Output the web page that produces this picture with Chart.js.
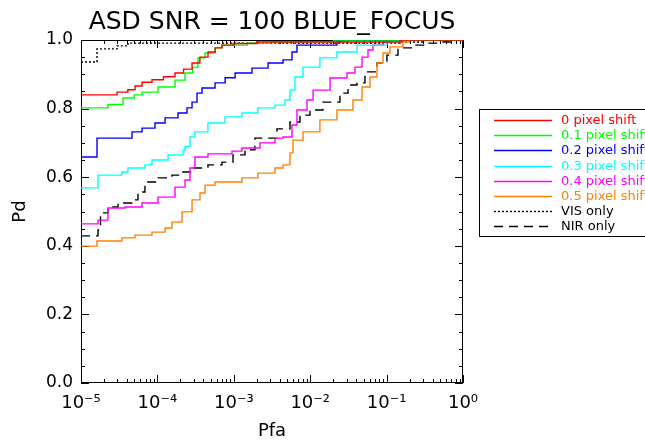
<!DOCTYPE html>
<html>
<head>
<meta charset="utf-8">
<script src="https://cdn.jsdelivr.net/npm/chart.js@4"></script>
<style>
  body { margin: 0; background: #fff; }
  canvas { display: block; }
</style>
</head>
<body>
<canvas id="rocChart" width="645" height="443"></canvas>
<script>
// labels, in legend order
var seriesLabels = ["0 pixel shift", "0.1 pixel shift", "0.2 pixel shift", "0.3 pixel shift",
  "0.4 pixel shift", "0.5 pixel shift", "VIS only", "NIR only"];

// ROC curves (Pfa, Pd)
var shift0Pfa = [1e-5, 2.96e-5, 4.1e-5, 5.1e-5, 6.3e-5, 8.5e-5, 1.2e-4, 1.7e-4, 2.2e-4, 2.84e-4, 3.6e-4, 4.6e-4, 5.7e-4, 7.0e-4, 9.8e-4, 2.0e-3, 1.5e-1, 1];
var shift0Pd = [0.840, 0.848, 0.855, 0.866, 0.877, 0.884, 0.893, 0.904, 0.915, 0.933, 0.950, 0.965, 0.977, 0.985, 0.990, 0.994, 1.0, 1.0];

var shift1Pfa = [1e-5, 2.25e-5, 3.55e-5, 5.0e-5, 6.3e-5, 1.02e-4, 1.7e-4, 2.3e-4, 2.9e-4, 3.4e-4, 4.2e-4, 5.7e-4, 7.0e-4, 1.5e-3, 3.0e-3, 2.0e-2, 3.0e-2, 1];
var shift1Pd = [0.802, 0.812, 0.831, 0.840, 0.848, 0.863, 0.883, 0.904, 0.921, 0.948, 0.962, 0.977, 0.985, 0.991, 0.994, 0.997, 1.0, 1.0];

var shift2Pfa = [1e-5, 1.62e-5, 4.65e-5, 6.3e-5, 9.3e-5, 1.26e-4, 1.86e-4, 2.44e-4, 2.84e-4, 3.3e-4, 3.84e-4, 5.68e-4, 7.7e-4, 1.04e-3, 1.73e-3, 2.81e-3, 4.41e-3, 5.78e-3, 6.71e-3, 2.24e-2, 2.5e-2, 1];
var shift2Pd = [0.659, 0.714, 0.732, 0.743, 0.758, 0.773, 0.787, 0.802, 0.819, 0.845, 0.860, 0.875, 0.890, 0.904, 0.918, 0.933, 0.942, 0.965, 0.985, 0.994, 1.0, 1.0];

var shift3Pfa = [1e-5, 1.67e-5, 3.44e-5, 4.12e-5, 6.88e-5, 8.5e-5, 1.38e-4, 2.16e-4, 2.3e-4, 2.67e-4, 3.1e-4, 4.59e-4, 7.67e-4, 1.28e-3, 2.07e-3, 3.46e-3, 4.68e-3, 5.44e-3, 6.32e-3, 8.05e-3, 1.34e-2, 2.24e-2, 4.1e-2, 1.01e-1, 1.5e-1, 1];
var shift3Pd = [0.569, 0.606, 0.615, 0.627, 0.636, 0.650, 0.665, 0.679, 0.690, 0.717, 0.732, 0.758, 0.776, 0.787, 0.802, 0.810, 0.825, 0.854, 0.892, 0.921, 0.948, 0.965, 0.985, 0.994, 1.0, 1.0];

var shift4Pfa = [1e-5, 1.67e-5, 2.25e-5, 3.77e-5, 6.29e-5, 1.02e-4, 1.7e-4, 2.3e-4, 2.67e-4, 3.1e-4, 4.59e-4, 9.47e-4, 1.28e-3, 2.2e-3, 3.46e-3, 4.41e-3, 5.78e-3, 6.71e-3, 9.08e-3, 1.09e-2, 1.82e-2, 3.03e-2, 3.86e-2, 4.77e-2, 5.71e-2, 6.64e-2, 8.97e-2, 1.1e-1, 1];
var shift4Pd = [0.464, 0.475, 0.510, 0.513, 0.525, 0.542, 0.571, 0.592, 0.627, 0.659, 0.668, 0.676, 0.685, 0.700, 0.714, 0.717, 0.752, 0.796, 0.825, 0.854, 0.889, 0.904, 0.921, 0.950, 0.971, 0.985, 0.994, 1.0, 1.0];

var shift5Pfa = [1e-5, 1.62e-5, 3.44e-5, 5.09e-5, 8.49e-5, 1.26e-4, 1.55e-4, 2.1e-4, 2.84e-4, 3.61e-4, 4.2e-4, 5.68e-4, 1.28e-3, 2.07e-3, 3.46e-3, 4.41e-3, 5.44e-3, 5.96e-3, 8.05e-3, 1.34e-2, 2.24e-2, 3.63e-2, 4.77e-2, 6.07e-2, 7.48e-2, 8.97e-2, 1.11e-1, 1.64e-1, 2.0e-1, 1];
var shift5Pd = [0.399, 0.414, 0.423, 0.431, 0.440, 0.452, 0.469, 0.499, 0.534, 0.554, 0.577, 0.586, 0.598, 0.612, 0.627, 0.636, 0.671, 0.708, 0.732, 0.767, 0.796, 0.825, 0.863, 0.892, 0.933, 0.962, 0.980, 0.994, 1.0, 1.0];

var visPfa = [1e-5, 1.62e-5, 2.96e-5, 4.12e-5, 1.5e-1, 3.0e-1, 1];
var visPd = [0.936, 0.974, 0.983, 0.991, 0.994, 1.0, 1.0];

var nirPfa = [1e-5, 1.67e-5, 1.8e-5, 2.25e-5, 3.05e-5, 4.65e-5, 5.57e-5, 6.88e-5, 1.02e-4, 1.55e-4, 2.1e-4, 2.84e-4, 4.59e-4, 7.01e-4, 9.77e-4, 1.4e-3, 1.89e-3, 3.67e-3, 5.44e-3, 7.35e-3, 9.94e-3, 1.47e-2, 2.45e-2, 3.13e-2, 4.1e-2, 5.21e-2, 7.48e-2, 1.01e-1, 1.41e-1, 2.22e-1, 3.38e-1, 5.47e-1, 7.85e-1, 1];
var nirPd = [0.429, 0.446, 0.496, 0.513, 0.525, 0.534, 0.557, 0.586, 0.598, 0.606, 0.615, 0.627, 0.636, 0.644, 0.665, 0.680, 0.714, 0.741, 0.761, 0.781, 0.796, 0.819, 0.845, 0.869, 0.875, 0.907, 0.933, 0.956, 0.977, 0.985, 0.991, 0.994, 1.0, 1.0];

// axis tick labels
var xTickValues = [1e-5, 1e-4, 1e-3, 1e-2, 1e-1, 1];
var xTickLabels = ["10\u207B\u2075", "10\u207B\u2074", "10\u207B\u00B3", "10\u207B\u00B2", "10\u207B\u00B9", "10\u2070"];
var yTickValues = [0, 0.2, 0.4, 0.6, 0.8, 1.0];
var yTickLabels = ["0.0", "0.2", "0.4", "0.6", "0.8", "1.0"];

function toPoints(pfa, pd) {
  return pfa.map(function (x, i) { return { x: x, y: pd[i] }; });
}

function rocDataset(label, pfa, pd, color, dash) {
  return {
    label: label,
    data: toPoints(pfa, pd),
    borderColor: color,
    borderWidth: 1.4,
    borderDash: dash || [],
    pointRadius: 0,
    stepped: true,
    fill: false
  };
}

// IDL style box with inward ticks on all four sides
var axisBox = {
  id: "axisBox",
  beforeDatasetsDraw: function (chart) {
    var ctx = chart.ctx;
    var a = chart.chartArea;
    var xs = chart.scales.x;
    var ys = chart.scales.y;
    ctx.save();
    ctx.strokeStyle = "#000";
    ctx.lineWidth = 1;
    ctx.strokeRect(a.left + 0.5, a.top + 0.5, a.right - a.left - 1, a.bottom - a.top - 1);
    ctx.beginPath();
    for (var k = -5; k <= 0; k++) {
      for (var m = 1; m <= 9; m++) {
        if (k === 0 && m > 1) break;
        var px = Math.round(xs.getPixelForValue(m * Math.pow(10, k))) + 0.5;
        var len = m === 1 ? 8 : 4;
        ctx.moveTo(px, a.bottom);
        ctx.lineTo(px, a.bottom - len);
        ctx.moveTo(px, a.top);
        ctx.lineTo(px, a.top + len);
      }
    }
    for (var i = 0; i <= 20; i++) {
      var py = Math.round(ys.getPixelForValue(i / 20)) + 0.5;
      var l = i % 4 === 0 ? 8 : 4;
      ctx.moveTo(a.left, py);
      ctx.lineTo(a.left + l, py);
      ctx.moveTo(a.right, py);
      ctx.lineTo(a.right - l, py);
    }
    ctx.stroke();
    ctx.restore();
  }
};

// legend box to the right of the plot (runs off the window like the original)
var sideLegend = {
  id: "sideLegend",
  afterDraw: function (chart) {
    var ctx = chart.ctx;
    ctx.save();
    ctx.strokeStyle = "#000";
    ctx.lineWidth = 1;
    ctx.strokeRect(479.5, 109.5, 220, 127);
    ctx.font = "13px 'DejaVu Sans'";
    ctx.textBaseline = "middle";
    chart.data.datasets.forEach(function (ds, i) {
      var y = Math.round(120 + i * 15.2) + 0.5;
      ctx.strokeStyle = ds.borderColor;
      ctx.lineWidth = 1.4;
      ctx.setLineDash(ds.borderDash);
      ctx.beginPath();
      ctx.moveTo(494, y);
      ctx.lineTo(552, y);
      ctx.stroke();
      ctx.setLineDash([]);
      ctx.fillStyle = ds.borderColor;
      ctx.fillText(ds.label, 561, y);
    });
    ctx.restore();
  }
};

window.onload = function () {
  Chart.defaults.font.family = "'DejaVu Sans'";
  Chart.defaults.color = "#000";

  var ctx = document.getElementById("rocChart").getContext("2d");
  var rocChart = new Chart(ctx, {
    type: "line",
    data: {
      datasets: [
        rocDataset(seriesLabels[0], shift0Pfa, shift0Pd, "#ff0000"),
        rocDataset(seriesLabels[1], shift1Pfa, shift1Pd, "#00ff00"),
        rocDataset(seriesLabels[2], shift2Pfa, shift2Pd, "#0000ff"),
        rocDataset(seriesLabels[3], shift3Pfa, shift3Pd, "#00ffff"),
        rocDataset(seriesLabels[4], shift4Pfa, shift4Pd, "#ff00ff"),
        rocDataset(seriesLabels[5], shift5Pfa, shift5Pd, "#ff8000"),
        rocDataset(seriesLabels[6], visPfa, visPd, "#000000", [2, 2]),
        rocDataset(seriesLabels[7], nirPfa, nirPd, "#000000", [9, 6])
      ]
    },
    options: {
      responsive: false,
      animation: false,
      layout: { padding: { left: 0, right: 182, top: 0, bottom: 0 } },
      plugins: {
        legend: { display: false },
        tooltip: { enabled: false },
        title: {
          display: true,
          text: "ASD SNR = 100 BLUE_FOCUS",
          fullSize: false,
          font: { size: 25, weight: "normal", lineHeight: 1.2 },
          padding: { top: 7, bottom: 3 }
        }
      },
      scales: {
        x: {
          type: "logarithmic",
          min: 1e-5,
          max: 1,
          grid: { display: false, drawTicks: false },
          border: { display: false },
          ticks: {
            autoSkip: false,
            maxRotation: 0,
            padding: 10,
            font: { size: 18 },
            callback: function (value) {
              for (var i = 0; i < xTickValues.length; i++) {
                if (Math.abs(value / xTickValues[i] - 1) < 1e-6) return xTickLabels[i];
              }
              return "";
            }
          },
          title: { display: true, text: "Pfa", font: { size: 18 }, padding: { top: 0, bottom: 1 } },
          afterFit: function (scale) {
            scale.height = 60;
            scale.paddingLeft = 0;
            scale.paddingRight = 0;
          }
        },
        y: {
          min: 0,
          max: 1,
          grid: { display: false, drawTicks: false },
          border: { display: false },
          afterBuildTicks: function (scale) {
            scale.ticks = yTickValues.map(function (v) { return { value: v }; });
          },
          ticks: {
            padding: 8,
            font: { size: 17 },
            callback: function (value) {
              var i = yTickValues.indexOf(value);
              return i >= 0 ? yTickLabels[i] : "";
            }
          },
          title: { display: true, text: "Pd", font: { size: 18 }, padding: { top: 10, bottom: 0 } },
          afterFit: function (scale) {
            scale.width = 81;
            scale.paddingTop = 0;
            scale.paddingBottom = 0;
          }
        }
      }
    },
    plugins: [axisBox, sideLegend]
  });
};
</script>
</body>
</html>
